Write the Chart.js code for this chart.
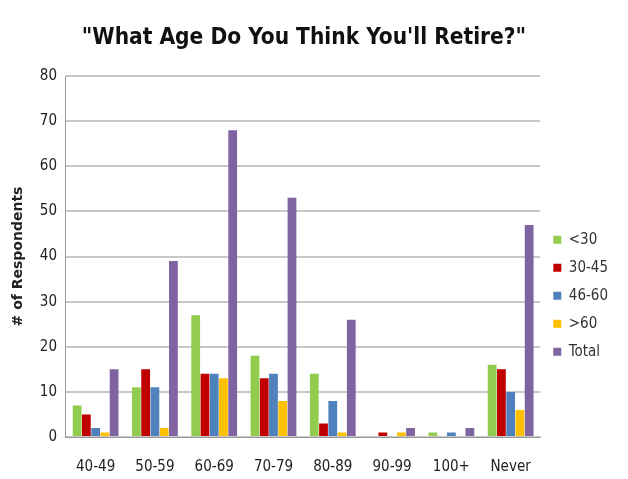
<!DOCTYPE html>
<html>
<head>
<meta charset="utf-8">
<script src="https://cdn.jsdelivr.net/npm/chart.js@4/dist/chart.umd.min.js"></script>
<style>
  html, body { margin: 0; padding: 0; background: #fff; }
  #wrap { width: 628px; height: 479px; }
</style>
</head>
<body>
<div id="wrap"><canvas id="bar" width="628" height="479"></canvas></div>
<script>
var ageRanges = ['40-49', '50-59', '60-69', '70-79', '80-89', '90-99', '100+', 'Never'];
var under30   = [7, 11, 27, 18, 14, 0, 1, 16];
var age30to45 = [5, 15, 14, 13, 3, 1, 0, 15];
var age46to60 = [2, 11, 14, 14, 8, 0, 1, 10];
var over60    = [1, 2, 13, 8, 1, 1, 0, 6];
var total     = [15, 39, 68, 53, 26, 2, 2, 47];

var ChartData = {
  labels: ageRanges,
  datasets: [
    { label: '<30',   data: under30,   backgroundColor: '#92cc4f' },
    { label: '30-45', data: age30to45, backgroundColor: '#c00000' },
    { label: '46-60', data: age46to60, backgroundColor: '#4f81bd' },
    { label: '>60',   data: over60,    backgroundColor: '#ffc000' },
    { label: 'Total', data: total,     backgroundColor: '#8064a2' }
  ]
};

var font = "'DejaVu Sans Condensed', 'Liberation Sans', sans-serif";

window.onload = function(){
  window.myBar = new Chart(document.getElementById('bar').getContext('2d'), {
    type: 'bar',
    data: ChartData,
    options: {
      responsive: false,
      animation: false,
      layout: { padding: { left: 4, right: 10, top: 6, bottom: -10 } },
      datasets: { bar: { barPercentage: 0.95, categoryPercentage: 0.78 } },
      plugins: {
        title: {
          display: true,
          // trailing spaces nudge the centred title a bit to the left, like the original
          text: '"What Age Do You Think You\'ll Retire?"  ',
          color: '#111',
          font: { family: font, size: 22.5, weight: 'bold' },
          padding: { top: 19, bottom: 24 }
        },
        legend: {
          position: 'right',
          title: { display: true, text: ' ', padding: { top: 82, bottom: 0 } },
          labels: {
            boxWidth: 8, boxHeight: 8, padding: 13,
            color: '#333',
            font: { family: font, size: 15 }
          }
        },
        tooltip: { enabled: false }
      },
      scales: {
        x: {
          grid: { display: false },
          border: { color: '#999' },
          ticks: { color: '#222', font: { family: font, size: 15 }, padding: 13 }
        },
        y: {
          min: 0, max: 80,
          ticks: { stepSize: 10, color: '#222', font: { family: font, size: 15 }, padding: 9 },
          grid: { color: '#c8c8c8', lineWidth: 2, drawTicks: false },
          border: { color: '#999' },
          title: {
            display: true, text: '# of Respondents', color: '#222',
            font: { family: "'DejaVu Sans', sans-serif", size: 14, weight: 'bold' },
            padding: { top: 6, bottom: 4 }
          }
        }
      }
    }
  });
};
</script>
</body>
</html>
